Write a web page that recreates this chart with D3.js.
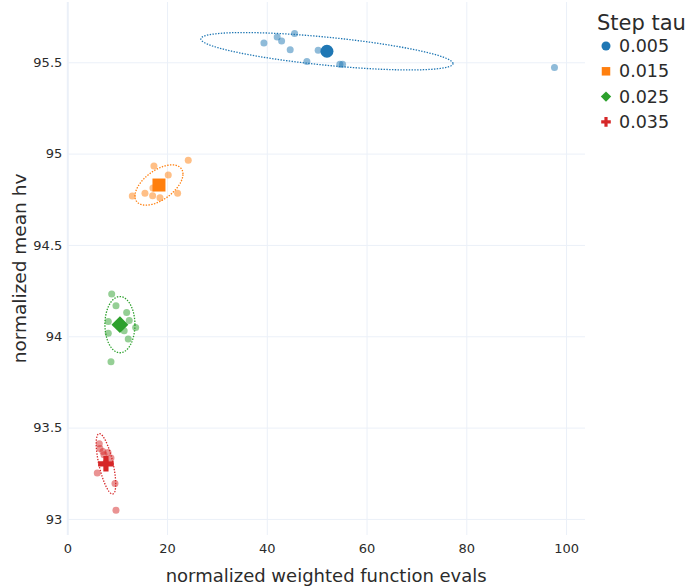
<!DOCTYPE html>
<html>
<head>
<meta charset="utf-8">
<script src="https://cdn.jsdelivr.net/npm/d3@7"></script>
<style>
  html, body { margin: 0; padding: 0; background: #fff; }
  svg { display: block; font-family: "DejaVu Sans", Verdana, sans-serif; }
</style>
</head>
<body>
<svg id="chart" width="691" height="588"></svg>
<script>
// Step tau settings and their colours / mean-marker symbols
const taus = ["0.005", "0.015", "0.025", "0.035"];
const colors = ["#1f77b4", "#ff7f0e", "#2ca02c", "#d62728"];
const symbols = ["circle", "square", "diamond", "cross"];

// Per-run results: normalized weighted function evals (x) and normalized mean hv (y)
const evals005 = [39.42, 42.08, 42.97, 45.57, 44.69, 50.30, 48.04, 54.65, 55.19, 97.68];
const hv005    = [95.605, 95.638, 95.616, 95.657, 95.569, 95.566, 95.504, 95.489, 95.489, 95.471];

const evals015 = [17.37, 24.25, 20.24, 13.03, 15.57, 17.11, 18.58, 22.12, 17.17, 18.36];
const hv015    = [94.932, 94.964, 94.883, 94.768, 94.783, 94.769, 94.758, 94.783, 94.812, 94.828];

const evals025 = [8.90, 9.76, 11.90, 8.22, 12.42, 13.71, 8.22, 12.22, 8.76, 11.40];
const hv025    = [94.231, 94.167, 94.130, 94.081, 94.086, 94.048, 94.017, 93.985, 93.861, 94.030];

const evals035 = [6.41, 6.55, 7.15, 8.16, 7.35, 8.76, 7.76, 6.01, 9.56, 9.76];
const hv035    = [93.411, 93.385, 93.369, 93.363, 93.352, 93.334, 93.309, 93.252, 93.194, 93.048];

// Axis ticks
const xTicks = [0, 20, 40, 60, 80, 100];
const yTicks = [93, 93.5, 94, 94.5, 95, 95.5];

const evalsAll = [evals005, evals015, evals025, evals035];
const hvAll = [hv005, hv015, hv025, hv035];

const svg = d3.select("#chart");
const W = 691, H = 588;
const plot = { left: 67.3, right: 585, top: 2, bottom: 535 };

const x = d3.scaleLinear().domain([0, 103.8]).range([plot.left, plot.right]);
const y = d3.scaleLinear().domain([92.912, 95.83]).range([plot.bottom, plot.top]);

svg.append("rect").attr("width", W).attr("height", H).attr("fill", "#fff");

const gridColor = "#EBF0F8";
const textColor = "#2b2b2b";

// Gridlines and tick labels
const gx = svg.append("g")
  .attr("transform", `translate(0,${plot.bottom})`)
  .call(d3.axisBottom(x).tickValues(xTicks).tickSize(-(plot.bottom - plot.top)).tickPadding(9)
    .tickFormat(d3.format("d")));
const gy = svg.append("g")
  .attr("transform", `translate(${plot.left},0)`)
  .call(d3.axisLeft(y).tickValues(yTicks).tickSize(-(plot.right - plot.left)).tickPadding(5)
    .tickFormat(d => String(d)));

[gx, gy].forEach(g => {
  g.select(".domain").remove();
  g.selectAll(".tick line").attr("stroke", gridColor).attr("stroke-width", 1);
  g.selectAll(".tick text").attr("fill", textColor).attr("font-size", 13)
    .attr("font-family", "DejaVu Sans, Verdana, sans-serif");
});
gx.selectAll(".tick").filter(d => d === 0).select("line").attr("stroke-width", 2);

// Axis titles
svg.append("text")
  .attr("x", (plot.left + plot.right) / 2).attr("y", 582)
  .attr("text-anchor", "middle").attr("font-size", 18).attr("fill", textColor)
  .text("normalized weighted function evals");
svg.append("text")
  .attr("transform", `translate(26,${(plot.top + plot.bottom) / 2}) rotate(-90)`)
  .attr("text-anchor", "middle").attr("font-size", 18.5).attr("fill", textColor)
  .text("normalized mean hv");

// Symbol generators with plotly-like proportions (size = marker diameter)
function symbolPath(kind, size) {
  const r = size / 2;
  if (kind === "circle") {
    return `M${r},0A${r},${r} 0 1,1 0,-${r}A${r},${r} 0 0,1 ${r},0Z`;
  }
  if (kind === "square") {
    return `M${r},${r}H-${r}V-${r}H${r}Z`;
  }
  if (kind === "diamond") {
    const rd = r * 1.3;
    return `M${rd},0L0,${rd}L-${rd},0L0,-${rd}Z`;
  }
  // cross
  const rc = r * 1.2, rc2 = r * 0.4;
  return `M${rc},${rc2}H${rc2}V${rc}H-${rc2}V${rc2}H-${rc}V-${rc2}H-${rc2}V-${rc}H${rc2}V-${rc2}H${rc}Z`;
}

// Statistics for each group: mean and 1.5-sigma covariance ellipse
function stats(xs, ys) {
  const n = xs.length;
  const mx = d3.mean(xs), my = d3.mean(ys);
  let sxx = 0, syy = 0, sxy = 0;
  for (let i = 0; i < n; i++) {
    const dx = xs[i] - mx, dy = ys[i] - my;
    sxx += dx * dx; syy += dy * dy; sxy += dx * dy;
  }
  sxx /= (n - 1); syy /= (n - 1); sxy /= (n - 1);
  const tr = sxx + syy, det = sxx * syy - sxy * sxy;
  const disc = Math.sqrt(Math.max(0, tr * tr / 4 - det));
  const l1 = tr / 2 + disc, l2 = tr / 2 - disc;
  let v1;
  if (Math.abs(sxy) > 1e-12) v1 = [l1 - syy, sxy];
  else v1 = sxx >= syy ? [1, 0] : [0, 1];
  const len = Math.hypot(v1[0], v1[1]);
  v1 = [v1[0] / len, v1[1] / len];
  const v2 = [-v1[1], v1[0]];
  const k = 1.5;
  const a = k * Math.sqrt(l1), b = k * Math.sqrt(Math.max(0, l2));
  const ring = d3.range(0, 181).map(i => {
    const t = (i / 180) * 2 * Math.PI;
    return [mx + a * Math.cos(t) * v1[0] + b * Math.sin(t) * v2[0],
            my + a * Math.cos(t) * v1[1] + b * Math.sin(t) * v2[1]];
  });
  return { mx, my, ring };
}

const line = d3.line().x(d => x(d[0])).y(d => y(d[1]));

const groups = taus.map((t, i) => ({
  tau: t, color: colors[i], symbol: symbols[i],
  pts: evalsAll[i].map((v, j) => [v, hvAll[i][j]]),
  st: stats(evalsAll[i], hvAll[i])
}));

// Individual runs
groups.forEach(g => {
  svg.append("g").selectAll("circle").data(g.pts).join("circle")
    .attr("cx", d => x(d[0])).attr("cy", d => y(d[1])).attr("r", 3.5)
    .attr("fill", g.color).attr("fill-opacity", 0.5);
});

// Covariance ellipses
groups.forEach(g => {
  svg.append("path").datum(g.st.ring)
    .attr("d", line).attr("fill", "none")
    .attr("stroke", g.color).attr("stroke-width", 1.3)
    .attr("stroke-dasharray", "1.4,1.4");
});

// Group means
groups.forEach(g => {
  svg.append("path")
    .attr("transform", `translate(${x(g.st.mx)},${y(g.st.my)})`)
    .attr("d", symbolPath(g.symbol, 13))
    .attr("fill", g.color);
});

// Legend
const legend = svg.append("g").attr("transform", "translate(597,0)");
legend.append("text").attr("x", 0).attr("y", 30)
  .attr("font-size", 21).attr("fill", textColor).text("Step tau");
groups.forEach((g, i) => {
  const cy = 46 + i * 25.3;
  legend.append("path")
    .attr("transform", `translate(9,${cy})`)
    .attr("d", symbolPath(g.symbol, g.symbol === "circle" ? 9 : g.symbol === "square" ? 8.5 : 8))
    .attr("fill", g.color);
  legend.append("text").attr("x", 22).attr("y", cy).attr("dy", "0.35em")
    .attr("font-size", 17.5).attr("fill", textColor).text(g.tau);
});
</script>
</body>
</html>
